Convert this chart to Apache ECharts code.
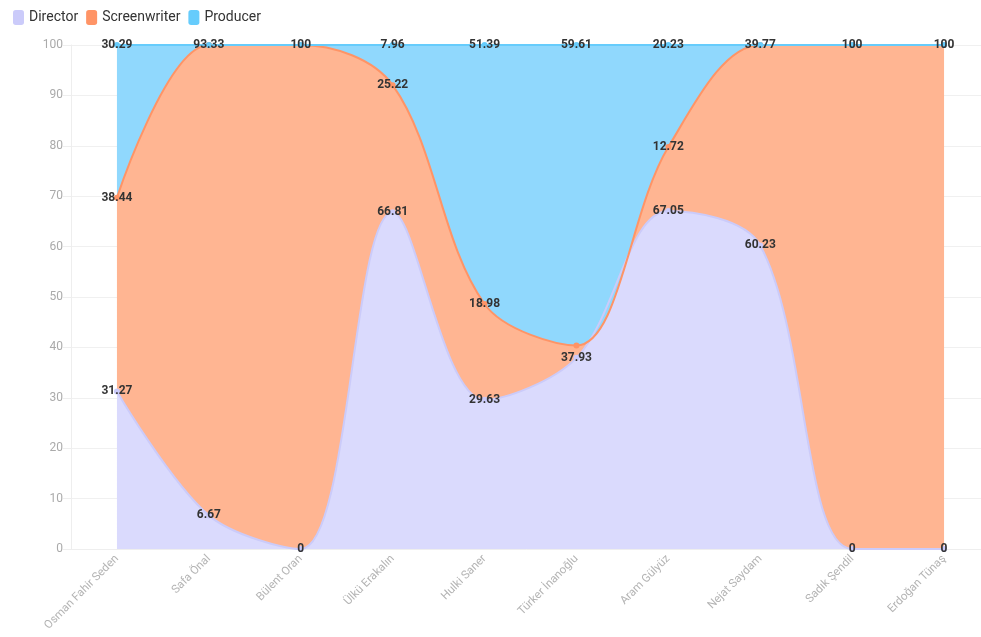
<!DOCTYPE html>
<html>
<head>
<meta charset="utf-8">
<script src="https://cdn.jsdelivr.net/npm/echarts@6/dist/echarts.min.js"></script>
<style>
  html, body { margin: 0; padding: 0; background: #fff; }
  #chart { width: 981px; height: 637px; }
</style>
</head>
<body>
<div id="chart"></div>
<script>
const names = ["Osman Fahir Seden", "Safa Önal", "Bülent Oran", "Ülkü Erakalın", "Hulki Saner",
  "Türker İnanoğlu", "Aram Gülyüz", "Nejat Saydam", "Sadık Şendil", "Erdoğan Tünaş"];
const director = [31.27, 6.67, 0, 66.81, 29.63, 37.93, 67.05, 60.23, 0, 0];
const screenwriter = [38.44, 93.33, 100, 25.22, 18.98, 2.46, 12.72, 39.77, 100, 100];
const producer = [30.29, 0, 0, 7.96, 51.39, 59.61, 20.23, 0, 0, 0];

function makeSeries(name, data, lineColor, areaColor) {
  return {
    name: name,
    type: "line",
    stack: "total",
    smooth: 0.34,
    data: data,
    symbol: "circle",
    symbolSize: 6,
    itemStyle: { color: lineColor },
    lineStyle: { color: lineColor, width: 2 },
    areaStyle: { color: areaColor, opacity: 1 },
    label: {
      show: true,
      position: "inside",
      color: "#333",
      fontWeight: "bold",
      fontSize: 12,
      lineHeight: 17,
      fontFamily: "Roboto"
    },
    labelLayout: { hideOverlap: true }
  };
}

let myChart = echarts.init(document.getElementById("chart"));
myChart.setOption({
  animation: false,
  textStyle: { fontFamily: "Roboto" },
  legend: {
    left: 8,
    top: 5,
    icon: "roundRect",
    itemWidth: 11,
    itemHeight: 15,
    itemGap: 8,
    textStyle: { color: "#333", fontSize: 14 },
    data: ["Director", "Screenwriter", "Producer"]
  },
  grid: { left: 71, top: 45, width: 919, height: 504, outerBoundsMode: "none" },
  xAxis: {
    type: "category",
    data: names,
    boundaryGap: true,
    axisLine: { lineStyle: { color: "#eee" } },
    axisTick: { alignWithLabel: true, lineStyle: { color: "#eee" } },
    axisLabel: { rotate: 45, color: "#b4b4b4", fontSize: 11.5, interval: 0 }
  },
  yAxis: {
    type: "value",
    min: 0,
    max: 100,
    interval: 10,
    axisLine: { show: true, lineStyle: { color: "#eee" } },
    axisTick: { show: true, length: 8, lineStyle: { color: "#eee" } },
    axisLabel: { color: "#aaa", fontSize: 12 },
    splitLine: { lineStyle: { color: "#f0f0f0" } }
  },
  series: [
    makeSeries("Director", director, "#cbcbfa", "#dadafd"),
    makeSeries("Screenwriter", screenwriter, "#ff9466", "#ffb592"),
    makeSeries("Producer", producer, "#66ccfc", "#90d8fd")
  ]
});
</script>
</body>
</html>
